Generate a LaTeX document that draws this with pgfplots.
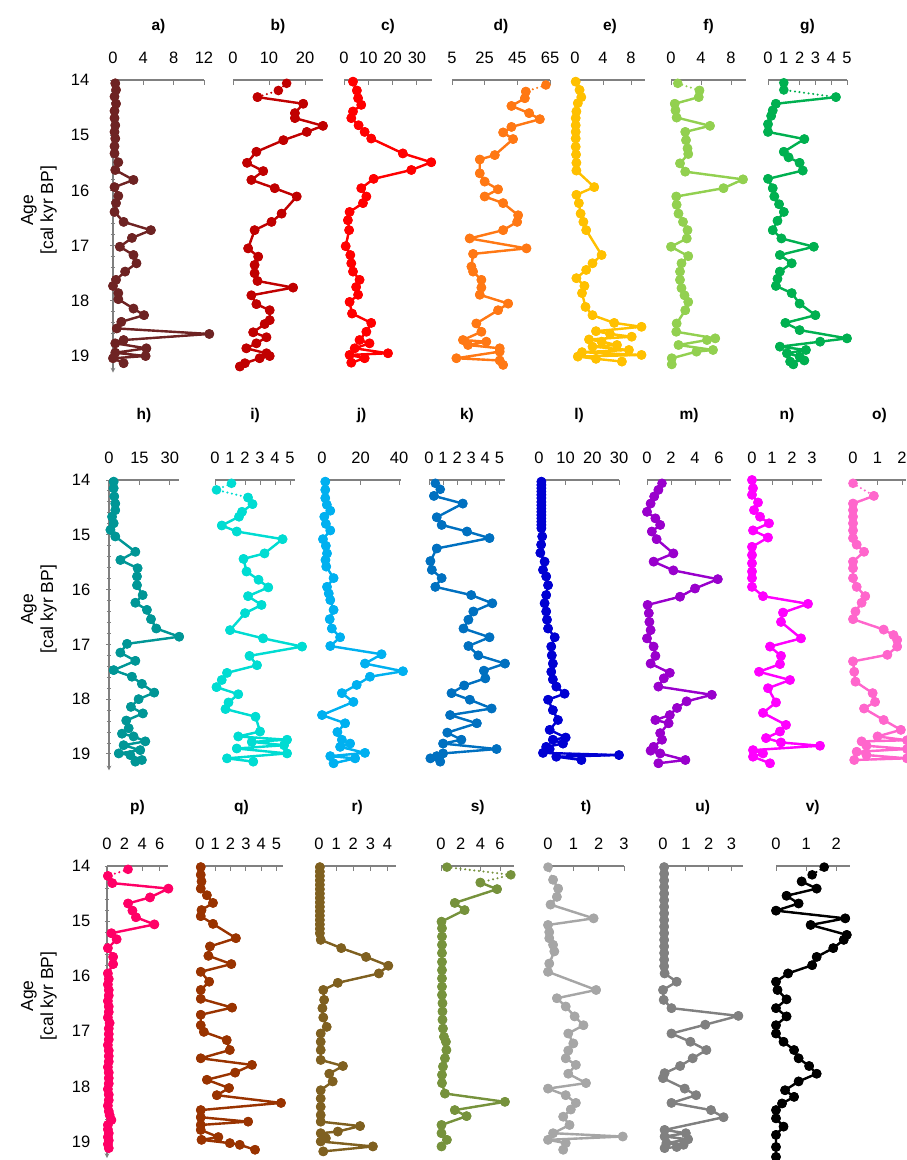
\documentclass[border=0pt]{standalone}
\usepackage{fontspec}
\setmainfont{Liberation Sans}
\usepackage{pgfplots}
\pgfplotsset{compat=1.18}
\usepackage{pgfplotstable}

\definecolor{cA}{RGB}{110,35,35}
\definecolor{cB}{RGB}{192,0,0}
\definecolor{cC}{RGB}{255,0,0}
\definecolor{cD}{RGB}{255,120,20}
\definecolor{cE}{RGB}{255,192,0}
\definecolor{cF}{RGB}{146,208,80}
\definecolor{cG}{RGB}{0,176,80}
\definecolor{cH}{RGB}{0,150,150}
\definecolor{cI}{RGB}{0,220,210}
\definecolor{cJ}{RGB}{0,176,240}
\definecolor{cK}{RGB}{0,112,192}
\definecolor{cL}{RGB}{0,0,210}
\definecolor{cM}{RGB}{153,0,204}
\definecolor{cN}{RGB}{255,0,255}
\definecolor{cO}{RGB}{255,102,204}
\definecolor{cP}{RGB}{255,0,102}
\definecolor{cQ}{RGB}{153,51,0}
\definecolor{cR}{RGB}{127,96,32}
\definecolor{cS}{RGB}{118,146,60}
\definecolor{cT}{RGB}{166,166,166}
\definecolor{cU}{RGB}{128,128,128}
\definecolor{cV}{RGB}{0,0,0}

\newcommand\tickfont{\fontsize{16.5}{18}\selectfont}
\newcommand\titlefont{\fontsize{15.5}{18}\selectfont\bfseries}
\newcommand\labelfont{\fontsize{17.5}{20}\selectfont}
\newcommand\agelabel[1]{\node[rotate=90, anchor=south, align=center, font=\labelfont, inner sep=0pt] at ([xshift=#1]axis description cs:0,0.555) {Age\\{[}cal kyr BP]};}

\pgfplotsset{
  panel/.style={
    scale only axis, anchor=north west, clip=false,
    y dir=reverse, ymin=14, ymax=19.3,
    axis x line=top,
    x axis line style={-, draw=gray, line width=1.1pt},
    y axis line style={-, draw=gray, line width=1.1pt},
    every outer y axis line/.append style={-},
    every inner y axis line/.append style={-},
    every outer x axis line/.append style={-},
    every inner x axis line/.append style={-},
    every tick/.style={draw=gray, line width=1pt},
    xtick align=inside, ytick align=outside,
    major tick length=5pt, minor tick length=4pt,
    xticklabel style={inner sep=0pt, anchor=base, yshift=16.5pt, font=\tickfont, text=black},
    /pgf/number format/assume math mode=true,
    scaled x ticks=false,
    every axis title shift=0pt,
    title style={at={(axis description cs:0.5,1)}, anchor=base, font=\titlefont, inner sep=0pt},
  },
  otherp/.style={axis y line=none},
  firstp/.style={
    axis y line=left, ytick={14,...,19}, minor y tick num=4,
    yticklabel style={inner sep=0pt, anchor=east, font=\tickfont, text=black},
  },
  rowA/.style={height=292.6pt, title style={yshift=50pt}},
  rowB/.style={height=290.4pt, title style={yshift=61pt}},
  rowC/.style={height=292pt, title style={yshift=55pt}},
  pdot/.style={line width=2.3pt, dash pattern=on 0pt off 4.6pt, line cap=round, mark=*, mark size=3.6pt, mark options={solid}},
  pline/.style={line width=2.4pt, line join=round, mark=*, mark size=3.6pt, mark options={solid}},
}

% #1 x, #2 y-top, #3 width, #4 colour, #5 table, #6 first index of solid line, #7 options
\newcommand\panel[7]{%
\begin{axis}[panel, at={(#1pt,-#2pt)}, width=#3pt, #7]
\addplot[color=#4, pdot] table[x=v,y=a]{#5};
\addplot[color=#4, pline, skip coords between index={0}{#6}] table[x=v,y=a]{#5};
\end{axis}}

\pgfplotstableread{
a v
14.06 0.3
14.18 0.4
14.30 0.2
14.43 0.4
14.56 0.2
14.69 0.2
14.82 0.3
14.94 0.2
15.06 0.3
15.20 0.2
15.33 0.2
15.49 0.7
15.63 0.3
15.81 2.7
15.94 0.2
16.10 0.7
16.23 0.4
16.39 0.2
16.57 1.4
16.72 5.0
16.86 2.5
17.02 0.9
17.17 2.7
17.32 3.1
17.47 1.6
17.62 0.4
17.73 0.0
17.86 0.7
17.97 0.7
18.14 2.7
18.26 4.1
18.38 1.1
18.50 0.5
18.60 12.7
18.71 1.4
18.77 0.3
18.86 4.4
18.94 0.3
19.00 4.3
19.04 0.0
19.13 1.4
}\tA

\pgfplotstableread{
a v
14.06 14.9
14.19 12.6
14.31 6.8
14.43 19.5
14.60 17.2
14.69 17.2
14.83 25.0
14.94 20.5
15.09 14.0
15.30 6.5
15.50 3.9
15.65 8.4
15.81 5.1
15.96 11.6
16.11 17.7
16.42 13.5
16.57 10.7
16.72 6.0
17.05 4.2
17.20 7.0
17.35 6.0
17.50 6.0
17.64 6.8
17.76 16.7
17.90 5.1
18.06 6.5
18.17 10.2
18.35 10.2
18.42 8.8
18.57 5.6
18.66 9.3
18.77 6.5
18.86 3.7
18.95 9.3
19.00 10.2
19.04 7.4
19.13 3.3
19.19 1.9
}\tB

\pgfplotstableread{
a v
14.03 3.7
14.19 5.3
14.33 5.8
14.45 7.1
14.57 3.7
14.69 3.0
14.82 6.0
14.94 8.5
15.06 11.2
15.33 24.2
15.49 35.9
15.63 27.7
15.79 12.2
15.96 7.1
16.11 9.2
16.23 7.8
16.39 2.3
16.54 1.6
16.72 2.1
17.01 0.7
17.17 2.6
17.32 3.0
17.47 3.7
17.62 6.4
17.75 5.0
17.89 5.8
18.02 2.3
18.23 3.3
18.40 11.2
18.56 9.2
18.71 6.4
18.77 10.5
18.86 4.4
18.95 18.1
18.98 2.3
19.04 8.5
19.12 3.0
}\tC

\pgfplotstableread{
a v
14.09 62.5
14.21 50.2
14.33 49.6
14.47 41.4
14.60 52.2
14.71 58.8
14.85 41.4
14.95 36.3
15.07 42.4
15.36 31.2
15.44 22.0
15.69 22.0
15.84 25.0
15.98 33.2
16.11 25.0
16.23 36.3
16.45 45.5
16.57 44.9
16.72 36.3
16.87 15.8
17.05 50.6
17.15 17.9
17.38 16.9
17.47 17.9
17.62 23.0
17.76 23.0
17.89 22.0
18.05 39.4
18.17 33.2
18.41 19.9
18.56 23.0
18.71 11.7
18.74 26.0
18.80 14.8
18.86 34.2
18.92 34.2
19.04 7.7
19.08 34.2
19.16 36.3
}\tD

\pgfplotstableread{
a v
14.03 0.1
14.18 0.65
14.31 0.9
14.42 0.4
14.57 0.2
14.69 0.1
14.82 0.1
14.94 0.1
15.06 0.1
15.21 0.1
15.35 0.15
15.50 0.2
15.64 0.2
15.94 2.75
16.08 0.2
16.23 0.55
16.42 0.8
16.57 1.2
16.72 1.6
17.17 3.8
17.32 2.5
17.44 1.6
17.59 0.2
17.73 1.35
17.86 1.0
18.11 1.5
18.26 2.5
18.40 5.6
18.47 9.5
18.55 3.0
18.60 5.0
18.65 8.1
18.70 2.0
18.74 3.8
18.80 6.0
18.83 2.5
18.89 7.7
18.93 1.0
18.98 9.5
19.01 0.4
19.05 3.0
19.10 6.7
}\tE

\pgfplotstableread{
a v
14.06 0.9
14.19 3.8
14.31 3.7
14.43 0.5
14.55 0.6
14.68 0.75
14.83 5.2
14.94 1.9
15.09 2.0
15.24 2.2
15.34 2.3
15.51 1.2
15.66 1.9
15.80 9.6
15.96 7.0
16.11 0.7
16.26 0.75
16.42 1.0
16.57 1.6
16.72 2.2
16.87 2.1
17.02 0.0
17.19 2.3
17.32 1.4
17.47 1.2
17.62 1.2
17.77 1.4
17.90 1.8
18.02 2.3
18.17 1.9
18.41 0.75
18.56 0.7
18.68 5.9
18.71 4.8
18.80 1.0
18.89 5.6
18.92 3.4
19.04 0.1
19.15 0.1
}\tF

\pgfplotstableread{
a v
14.05 1.0
14.18 1.0
14.31 4.3
14.43 0.5
14.55 0.3
14.65 0.2
14.80 0.0
14.94 0.0
15.07 2.3
15.30 1.0
15.40 1.3
15.50 2.0
15.64 2.2
15.79 0.0
15.96 0.3
16.11 0.4
16.25 0.7
16.39 1.0
16.55 0.6
16.72 0.3
16.87 0.85
17.02 2.9
17.17 0.75
17.32 1.5
17.47 0.75
17.60 0.6
17.73 0.5
17.86 1.5
18.05 2.0
18.26 3.0
18.40 1.1
18.53 2.0
18.68 5.0
18.74 3.3
18.83 0.75
18.89 2.4
18.95 1.2
19.01 2.0
19.08 2.3
19.10 1.4
19.15 1.6
}\tG

\pgfplotstableread{
a v
14.03 2.3
14.15 2.3
14.30 2.6
14.43 3.1
14.55 3.1
14.67 1.5
14.79 2.3
14.91 0.7
15.03 3.1
15.31 13.0
15.46 5.6
15.61 14.1
15.76 13.8
15.92 13.8
16.10 16.6
16.24 13.0
16.37 18.7
16.54 20.7
16.71 23.3
16.86 34.6
16.99 8.9
17.15 5.6
17.30 13.0
17.47 2.3
17.59 11.3
17.72 16.2
17.88 22.3
18.00 14.6
18.14 10.8
18.26 16.7
18.39 8.5
18.53 9.7
18.63 6.4
18.68 12.1
18.77 17.9
18.84 7.2
18.93 15.4
18.99 4.8
19.02 10.5
19.11 16.2
19.14 13.0
}\tH

\pgfplotstableread{
a v
14.06 1.1
14.18 0.1
14.32 2.2
14.44 2.5
14.58 1.8
14.67 1.6
14.83 0.45
14.94 1.45
15.08 4.5
15.34 3.3
15.44 1.9
15.67 2.1
15.82 2.9
15.96 3.55
16.12 2.2
16.28 3.1
16.43 2.0
16.74 1.0
16.89 3.2
17.04 5.8
17.21 2.3
17.38 2.8
17.52 0.8
17.65 0.45
17.78 0.1
17.91 1.55
18.06 0.9
18.18 0.7
18.32 2.7
18.59 3.0
18.68 1.55
18.74 4.8
18.78 2.45
18.84 4.6
18.90 1.45
18.99 4.8
19.08 0.8
19.14 2.55
}\tI

\pgfplotstableread{
a v
14.03 1.7
14.18 1.7
14.33 1.7
14.45 2.5
14.56 4.3
14.67 1.2
14.80 2.0
14.92 4.3
15.08 0.5
15.20 2.0
15.34 2.6
15.46 1.8
15.58 2.2
15.79 6.0
15.95 2.6
16.07 3.5
16.19 4.3
16.37 6.0
16.54 4.0
16.71 5.1
16.87 9.4
17.03 4.3
17.18 30.9
17.35 22.3
17.49 42.0
17.59 24.9
17.74 18.0
17.89 10.3
18.05 16.3
18.29 0.0
18.44 12.0
18.60 8.0
18.74 10.3
18.81 14.6
18.87 9.4
18.98 22.3
19.04 4.3
19.08 17.2
19.17 6.0
}\tJ

\pgfplotstableread{
a v
14.06 0.45
14.17 0.8
14.29 0.35
14.43 2.4
14.68 0.55
14.82 0.9
14.94 2.7
15.06 4.3
15.25 0.55
15.48 0.1
15.64 0.2
15.79 0.9
15.95 0.45
16.10 3.0
16.25 4.5
16.40 3.15
16.55 2.8
16.71 2.45
16.87 4.3
17.03 2.8
17.20 3.5
17.35 5.4
17.48 3.9
17.62 4.0
17.75 2.5
17.89 1.6
18.01 2.9
18.17 4.45
18.29 1.5
18.44 3.4
18.61 1.3
18.74 2.3
18.81 1.0
18.91 4.8
18.99 1.0
19.04 0.55
19.08 0.1
19.14 0.8
}\tK

\pgfplotstableread{
a v
14.03 0.9
14.09 0.9
14.15 0.9
14.21 0.9
14.27 0.9
14.33 0.9
14.40 0.9
14.46 0.9
14.52 0.9
14.58 0.9
14.64 0.9
14.70 0.9
14.76 0.9
14.82 0.9
14.88 0.9
15.03 1.2
15.18 0.8
15.33 0.5
15.49 2.1
15.64 1.5
15.76 2.7
15.92 3.4
16.10 2.7
16.25 2.1
16.40 2.7
16.55 3.0
16.71 3.4
16.87 5.9
17.04 4.6
17.20 4.8
17.35 5.2
17.50 4.6
17.64 5.2
17.77 6.5
17.90 9.6
18.01 3.4
18.20 5.2
18.38 7.1
18.56 4.0
18.70 10.0
18.74 5.2
18.81 9.0
18.87 2.7
18.91 4.0
18.98 1.5
19.02 30.0
19.05 6.5
19.11 15.9
}\tL

\pgfplotstableread{
a v
14.06 1.25
14.18 0.95
14.30 0.6
14.43 0.3
14.58 0.0
14.70 0.7
14.82 1.1
14.94 0.4
15.08 0.8
15.34 2.2
15.49 0.55
15.65 2.2
15.81 5.9
15.98 4.0
16.13 2.75
16.28 0.05
16.43 0.15
16.59 0.2
16.74 0.3
16.89 0.0
17.04 0.55
17.21 0.7
17.35 0.3
17.52 1.9
17.62 1.4
17.77 0.95
17.92 5.4
18.04 3.3
18.16 2.5
18.29 1.9
18.38 0.7
18.44 1.8
18.62 1.1
18.74 1.25
18.87 0.55
18.94 0.3
18.99 1.1
19.11 3.2
19.17 0.95
}\tM

\pgfplotstableread{
a v
14.00 0.0
14.15 0.05
14.27 0.0
14.41 0.3
14.55 0.1
14.67 0.4
14.79 0.85
14.92 0.05
15.05 0.8
15.22 0.0
15.37 0.0
15.52 0.0
15.67 0.0
15.79 0.0
15.95 0.0
16.12 0.55
16.26 2.8
16.42 1.55
16.59 1.45
16.89 2.45
17.04 0.9
17.21 1.45
17.36 1.4
17.50 0.35
17.65 1.9
17.80 0.8
18.06 1.2
18.25 0.55
18.47 1.7
18.59 1.4
18.71 0.7
18.79 1.45
18.85 3.4
18.93 0.05
18.99 0.55
19.05 0.05
19.17 0.9
}\tN

\pgfplotstableread{
a v
14.06 0.0
14.29 0.85
14.43 0.0
14.55 0.0
14.67 0.0
14.79 0.0
14.92 0.0
15.06 0.0
15.18 0.15
15.31 0.45
15.49 0.0
15.61 0.0
15.79 0.0
15.95 0.15
16.12 0.5
16.24 0.35
16.40 0.1
16.54 0.0
16.73 1.25
16.83 1.65
16.92 1.8
17.04 1.8
17.19 1.4
17.31 0.0
17.50 0.05
17.68 0.1
17.89 0.8
18.05 0.9
18.17 0.45
18.38 1.25
18.56 1.95
18.68 1.0
18.75 2.2
18.77 0.35
18.85 0.55
18.91 2.2
18.96 0.15
19.02 0.55
19.08 2.2
19.11 0.05
}\tO

\pgfplotstableread{
a v
14.06 2.4
14.18 0.1
14.31 0.6
14.41 7.0
14.57 4.9
14.68 2.4
14.81 2.9
14.93 3.3
15.06 5.4
15.22 0.5
15.33 1.1
15.49 0.1
15.65 0.7
15.78 0.7
15.95 0.1
16.05 0.2
16.15 0.1
16.25 0.2
16.35 0.2
16.45 0.1
16.55 0.2
16.65 0.2
16.75 0.1
16.85 0.3
16.95 0.2
17.05 0.2
17.15 0.2
17.25 0.1
17.35 0.2
17.45 0.2
17.55 0.2
17.65 0.1
17.75 0.2
17.85 0.2
17.95 0.2
18.05 0.1
18.15 0.2
18.25 0.2
18.35 0.1
18.45 0.2
18.52 0.3
18.61 0.5
18.70 0.1
18.78 0.1
18.85 0.2
18.92 0.1
18.98 0.2
19.05 0.1
19.12 0.2
}\tP

\pgfplotstableread{
a v
14.02 0.05
14.16 0.05
14.28 0.1
14.41 0.05
14.53 0.45
14.67 0.85
14.80 0.1
14.91 0.05
15.05 0.85
15.31 2.35
15.46 0.65
15.63 0.55
15.78 2.05
15.92 0.05
16.10 0.6
16.25 0.05
16.41 0.05
16.57 2.1
16.70 0.05
16.89 0.05
17.01 0.25
17.16 1.75
17.34 1.95
17.49 0.05
17.61 3.4
17.75 2.3
17.88 0.45
18.03 1.9
18.16 1.1
18.30 5.3
18.43 0.05
18.56 0.05
18.64 3.15
18.70 0.05
18.79 0.05
18.92 1.2
18.97 0.1
19.03 1.95
19.06 2.6
19.15 3.6
}\tQ

\pgfplotstableread{
a v
14.02 0.05
14.10 0.05
14.18 0.05
14.26 0.05
14.34 0.05
14.42 0.05
14.50 0.05
14.58 0.05
14.66 0.05
14.74 0.05
14.82 0.05
14.90 0.05
14.98 0.05
15.06 0.05
15.14 0.05
15.22 0.05
15.34 0.1
15.49 1.3
15.65 2.75
15.81 4.05
15.95 3.5
16.12 1.1
16.25 0.25
16.43 0.3
16.58 0.2
16.75 0.25
16.92 0.45
17.04 0.1
17.19 0.1
17.34 0.1
17.52 0.1
17.63 1.4
17.77 0.6
17.91 0.8
18.07 0.1
18.22 0.1
18.37 0.1
18.52 0.1
18.64 0.1
18.72 2.4
18.82 1.1
18.85 0.1
18.94 0.4
19.00 0.1
19.09 3.15
19.18 0.25
}\tR

\pgfplotstableread{
a v
14.02 0.6
14.16 7.1
14.30 4.0
14.42 5.7
14.67 1.4
14.80 2.4
15.01 0.05
15.13 0.1
15.28 0.1
15.43 0.1
15.58 0.1
15.74 0.1
15.89 0.1
16.04 0.1
16.19 0.1
16.34 0.1
16.49 0.15
16.64 0.15
16.79 0.15
16.95 0.2
17.10 0.3
17.19 0.5
17.34 0.55
17.49 0.4
17.64 0.2
17.79 0.1
17.94 0.1
18.13 0.4
18.28 6.5
18.43 1.4
18.54 2.6
18.70 0.05
18.85 0.05
18.97 0.6
19.09 0.05
}\tS

\pgfplotstableread{
a v
14.02 0.0
14.25 0.2
14.41 0.4
14.56 0.35
14.70 0.1
14.95 1.8
15.07 0.0
15.20 0.05
15.31 0.05
15.43 0.2
15.55 0.25
15.77 0.05
15.92 0.0
16.25 1.9
16.40 0.35
16.55 0.7
16.73 1.05
16.89 1.4
17.04 0.8
17.22 1.0
17.35 0.8
17.49 0.7
17.61 1.1
17.77 0.8
17.94 1.5
18.04 0.0
18.16 0.7
18.30 1.1
18.42 0.9
18.55 0.6
18.70 0.85
18.85 0.2
18.91 2.95
18.97 0.0
19.03 0.7
19.15 0.6
}\tT

\pgfplotstableread{
a v
14.02 0.05
14.14 0.05
14.26 0.05
14.38 0.05
14.50 0.05
14.62 0.05
14.74 0.05
14.86 0.05
14.98 0.05
15.10 0.05
15.22 0.05
15.34 0.05
15.46 0.05
15.58 0.05
15.70 0.05
15.82 0.05
15.95 0.07
16.10 0.6
16.25 0.0
16.43 0.03
16.58 0.37
16.72 3.3
16.88 1.85
17.04 0.37
17.19 1.2
17.34 1.9
17.49 1.3
17.63 0.75
17.76 0.07
17.85 0.0
18.04 0.95
18.16 1.45
18.30 0.37
18.43 2.1
18.56 2.65
18.79 0.07
18.85 1.0
18.91 0.07
18.96 1.1
19.03 0.15
19.06 0.9
19.10 0.6
19.12 0.07
}\tU

\pgfplotstableread{
a v
14.02 1.6
14.16 1.2
14.28 0.85
14.41 1.35
14.54 0.35
14.68 0.75
14.81 0.0
14.95 2.3
15.07 1.15
15.25 2.35
15.34 2.25
15.49 1.9
15.65 1.35
15.80 1.2
15.95 0.4
16.10 0.0
16.25 0.05
16.42 0.35
16.58 0.0
16.73 0.35
16.89 0.0
17.04 0.0
17.19 0.25
17.34 0.6
17.49 0.75
17.63 1.1
17.77 1.35
17.91 0.75
18.07 0.3
18.19 0.6
18.31 0.2
18.43 0.0
18.58 0.0
18.73 0.25
18.88 0.0
19.10 0.0
19.28 0.0
}\tV

\begin{document}
\begin{tikzpicture}
\path[use as bounding box] (0,0) rectangle (906pt,-1160pt);
% Row 1
\panel{113}{80}{91}{cA}{\tA}{0}{rowA, firstp, xmin=0, xmax=12, xtick={0,4,8,12}, title={a)}, yticklabel style={xshift=-21pt}, extra description/.code={\agelabel{-56pt}}}
\panel{233}{80}{90}{cB}{\tB}{2}{rowA, otherp, xmin=0, xmax=25, xtick={0,10,20}, title={b)}}
\panel{344}{80}{88}{cC}{\tC}{0}{rowA, otherp, xmin=0, xmax=36.2, xtick={0,10,20,30}, title={c)}}
\panel{452}{80}{98}{cD}{\tD}{1}{rowA, otherp, xmin=5, xmax=65, xtick={5,25,45,65}, title={d)}}
\panel{575}{80}{70}{cE}{\tE}{0}{rowA, otherp, xmin=0, xmax=10, xtick={0,4,8}, title={e)}}
\panel{671}{80}{75}{cF}{\tF}{1}{rowA, otherp, xmin=0, xmax=10, xtick={0,4,8}, title={f)}}
\panel{768}{80}{79}{cG}{\tG}{2}{rowA, otherp, xmin=0, xmax=5, xtick={0,1,2,3,4,5}, title={g)}}
% Row 2
\panel{109}{480}{70}{cH}{\tH}{0}{rowB, firstp, xmin=0, xmax=34.5, xtick={0,15,30}, title={h)}, yticklabel style={xshift=-16pt}, extra description/.code={\agelabel{-52pt}}}
\panel{215}{480}{80}{cI}{\tI}{2}{rowB, otherp, xmin=0, xmax=5.33, xtick={0,1,2,3,4,5}, title={i)}}
\panel{322}{480}{79}{cJ}{\tJ}{0}{rowB, otherp, xmin=0, xmax=41, xtick={0,20,40}, title={j)}}
\panel{429}{480}{76}{cK}{\tK}{2}{rowB, otherp, xmin=0, xmax=5.4, xtick={0,1,2,3,4,5}, title={k)}}
\panel{539}{480}{80}{cL}{\tL}{0}{rowB, otherp, xmin=0, xmax=30, xtick={0,10,20,30}, title={l)}}
\panel{647}{480}{84}{cM}{\tM}{1}{rowB, otherp, xmin=0, xmax=7, xtick={0,2,4,6}, title={m)}}
\panel{752}{480}{70}{cN}{\tN}{0}{rowB, otherp, xmin=0, xmax=3.5, xtick={0,1,2,3}, title={n)}}
\panel{853}{480}{53}{cO}{\tO}{1}{rowB, otherp, xmin=0, xmax=2.16, xtick={0,1,2}, title={o)}}
% Row 3
\panel{107}{866}{61}{cP}{\tP}{1}{rowC, firstp, xmin=0, xmax=6.95, xtick={0,2,4,6}, title={p)}, yticklabel style={xshift=-14pt}, extra description/.code={\agelabel{-50pt}}}
\panel{200}{866}{83}{cQ}{\tQ}{0}{rowC, otherp, xmin=0, xmax=5.43, xtick={0,1,2,3,4,5}, title={q)}}
\panel{319}{866}{76.5}{cR}{\tR}{0}{rowC, otherp, xmin=0, xmax=4.47, xtick={0,1,2,3,4}, title={r)}}
\panel{441}{866}{73.3}{cS}{\tS}{2}{rowC, otherp, xmin=0, xmax=7.45, xtick={0,2,4,6}, title={s)}}
\panel{548}{866}{76}{cT}{\tT}{1}{rowC, otherp, xmin=0, xmax=3, xtick={0,1,2,3}, title={t)}}
\panel{663}{866}{79.5}{cU}{\tU}{0}{rowC, otherp, xmin=0, xmax=3.48, xtick={0,1,2,3}, title={u)}}
\panel{776}{866}{73.5}{cV}{\tV}{2}{rowC, otherp, xmin=0, xmax=2.44, xtick={0,1,2}, title={v)}}
\end{tikzpicture}
\end{document}
